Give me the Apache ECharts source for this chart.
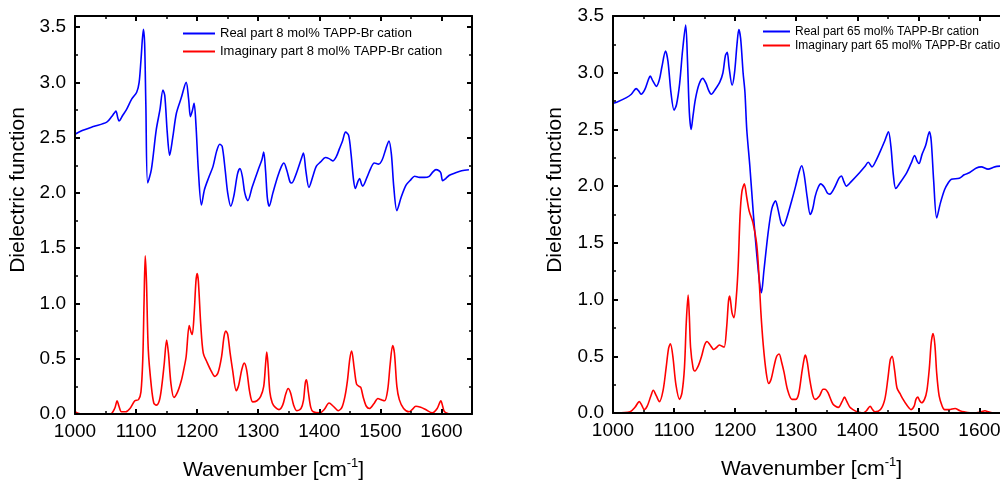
<!DOCTYPE html>
<html>
<head>
<meta charset="utf-8">
<script src="https://cdn.jsdelivr.net/npm/echarts@6/dist/echarts.min.js"></script>
<style>
  html, body { margin: 0; padding: 0; background: #fff; }
  #chart { width: 1000px; height: 480px; }
</style>
</head>
<body>
<div id="chart"></div>
<script>
// Dielectric function spectra, [wavenumber cm^-1, value]
const real8 = [[1000,2.53],[1010,2.56],[1030,2.60],[1052,2.64],[1060,2.69],[1064,2.72],[1067,2.74],[1070,2.68],[1072,2.65],[1078,2.70],[1084,2.75],[1093,2.85],[1101,2.91],[1105,3.00],[1108,3.20],[1112,3.48],[1114,3.35],[1116,2.80],[1119,2.09],[1125,2.21],[1133,2.57],[1139,2.75],[1144,2.93],[1147,2.88],[1151,2.55],[1155,2.34],[1160,2.50],[1166,2.72],[1174,2.86],[1182,3.00],[1186,2.85],[1189,2.69],[1192,2.74],[1195,2.81],[1198,2.62],[1202,2.20],[1207,1.89],[1212,2.03],[1219,2.14],[1226,2.24],[1232,2.38],[1237,2.44],[1241,2.42],[1246,2.20],[1250,2.00],[1255,1.88],[1260,1.97],[1266,2.17],[1270,2.22],[1274,2.15],[1278,2.00],[1283,1.93],[1290,2.05],[1300,2.21],[1306,2.30],[1309,2.37],[1312,2.20],[1315,1.95],[1318,1.88],[1324,2.00],[1332,2.15],[1338,2.24],[1342,2.27],[1347,2.20],[1352,2.10],[1355,2.09],[1362,2.17],[1370,2.30],[1374,2.36],[1378,2.20],[1383,2.05],[1390,2.16],[1395,2.24],[1402,2.28],[1410,2.32],[1416,2.31],[1422,2.29],[1428,2.33],[1433,2.40],[1438,2.47],[1443,2.55],[1448,2.52],[1452,2.35],[1456,2.12],[1459,2.04],[1463,2.10],[1466,2.13],[1469,2.08],[1471,2.06],[1478,2.14],[1484,2.22],[1490,2.27],[1497,2.26],[1503,2.30],[1509,2.40],[1514,2.47],[1518,2.35],[1522,2.05],[1527,1.84],[1534,1.96],[1542,2.07],[1550,2.12],[1556,2.15],[1564,2.14],[1572,2.14],[1580,2.15],[1586,2.19],[1591,2.21],[1596,2.20],[1599,2.18],[1602,2.11],[1607,2.13],[1613,2.16],[1622,2.18],[1633,2.20],[1645,2.21]];

const imag8 = [[1000,0.02],[1004,0.01],[1010,0.0],[1058,0.0],[1065,0.05],[1069,0.12],[1072,0.07],[1076,0.02],[1083,0.02],[1090,0.05],[1098,0.12],[1104,0.13],[1108,0.2],[1111,0.5],[1113,1.0],[1115,1.43],[1117,1.2],[1120,0.58],[1125,0.25],[1129,0.1],[1133,0.08],[1138,0.12],[1142,0.25],[1146,0.45],[1150,0.67],[1153,0.55],[1157,0.28],[1162,0.15],[1168,0.2],[1174,0.3],[1178,0.40],[1182,0.52],[1187,0.80],[1190,0.74],[1192,0.72],[1195,0.9],[1198,1.2],[1200,1.27],[1202,1.2],[1206,0.8],[1210,0.55],[1216,0.47],[1222,0.40],[1229,0.34],[1234,0.37],[1240,0.52],[1244,0.70],[1247,0.75],[1250,0.72],[1254,0.55],[1258,0.40],[1264,0.21],[1268,0.26],[1273,0.40],[1277,0.46],[1281,0.40],[1286,0.20],[1291,0.11],[1298,0.12],[1304,0.16],[1309,0.25],[1312,0.45],[1314,0.56],[1316,0.45],[1319,0.20],[1323,0.10],[1328,0.06],[1334,0.04],[1340,0.08],[1345,0.18],[1349,0.23],[1353,0.19],[1358,0.08],[1363,0.03],[1370,0.05],[1374,0.12],[1377,0.28],[1379,0.31],[1382,0.20],[1386,0.06],[1390,0.02],[1401,0.01],[1408,0.04],[1416,0.10],[1423,0.07],[1431,0.03],[1437,0.06],[1442,0.16],[1446,0.30],[1450,0.50],[1453,0.57],[1457,0.42],[1461,0.27],[1465,0.25],[1468,0.24],[1472,0.15],[1477,0.07],[1482,0.05],[1489,0.09],[1496,0.14],[1501,0.13],[1507,0.12],[1512,0.22],[1516,0.45],[1520,0.62],[1523,0.55],[1527,0.25],[1531,0.13],[1538,0.05],[1547,0.02],[1552,0.04],[1558,0.07],[1566,0.06],[1574,0.04],[1585,0.01],[1593,0.05],[1599,0.12],[1602,0.07],[1605,0.02],[1613,0.0]];

const real65 = [[1000,2.73],[1006,2.74],[1022,2.78],[1030,2.81],[1038,2.86],[1042,2.84],[1046,2.81],[1052,2.85],[1058,2.94],[1061,2.97],[1065,2.93],[1071,2.88],[1076,2.94],[1080,3.05],[1086,3.19],[1090,3.10],[1095,2.82],[1100,2.67],[1104,2.72],[1109,2.90],[1114,3.20],[1119,3.42],[1122,3.10],[1125,2.65],[1128,2.50],[1131,2.62],[1135,2.77],[1141,2.90],[1147,2.95],[1152,2.91],[1157,2.84],[1161,2.81],[1167,2.85],[1175,2.92],[1180,3.00],[1184,3.15],[1187,3.18],[1190,3.05],[1195,2.89],[1199,3.00],[1203,3.25],[1206,3.38],[1209,3.30],[1213,3.00],[1216,2.83],[1219,2.50],[1224,2.18],[1230,1.74],[1235,1.42],[1240,1.15],[1243,1.06],[1247,1.25],[1254,1.59],[1260,1.80],[1266,1.87],[1270,1.80],[1275,1.68],[1279,1.65],[1284,1.71],[1292,1.86],[1299,2.00],[1305,2.13],[1309,2.18],[1313,2.10],[1318,1.90],[1323,1.75],[1327,1.80],[1331,1.91],[1336,1.99],[1340,2.02],[1346,1.99],[1351,1.94],[1355,1.93],[1362,1.98],[1370,2.07],[1374,2.09],[1378,2.04],[1382,2.00],[1390,2.04],[1404,2.12],[1412,2.17],[1418,2.21],[1424,2.17],[1431,2.23],[1437,2.30],[1445,2.40],[1451,2.48],[1455,2.35],[1459,2.10],[1463,1.98],[1470,2.03],[1481,2.12],[1488,2.20],[1494,2.27],[1498,2.22],[1501,2.20],[1506,2.28],[1512,2.36],[1518,2.48],[1521,2.40],[1525,2.05],[1530,1.72],[1536,1.85],[1543,1.97],[1549,2.03],[1554,2.06],[1567,2.07],[1575,2.10],[1584,2.12],[1595,2.16],[1603,2.17],[1614,2.15],[1625,2.17],[1640,2.18],[1650,2.19]];

const imag65 = [[1000,0.0],[1006,0.0],[1028,0.01],[1036,0.05],[1043,0.10],[1047,0.07],[1051,0.03],[1056,0.06],[1062,0.15],[1066,0.20],[1071,0.15],[1076,0.10],[1082,0.20],[1087,0.40],[1091,0.57],[1094,0.61],[1098,0.50],[1103,0.25],[1109,0.12],[1113,0.18],[1117,0.40],[1120,0.80],[1123,1.04],[1125,0.85],[1127,0.58],[1131,0.40],[1134,0.37],[1140,0.42],[1145,0.50],[1150,0.60],[1154,0.63],[1159,0.60],[1165,0.56],[1170,0.58],[1174,0.60],[1178,0.59],[1182,0.58],[1186,0.75],[1189,0.98],[1191,1.03],[1195,0.88],[1198,0.84],[1202,1.03],[1205,1.30],[1208,1.74],[1211,1.95],[1215,2.02],[1219,1.90],[1223,1.78],[1229,1.68],[1235,1.50],[1238,1.30],[1242,0.90],[1246,0.60],[1251,0.35],[1255,0.26],[1259,0.30],[1264,0.42],[1268,0.50],[1272,0.52],[1276,0.45],[1280,0.36],[1286,0.20],[1293,0.12],[1299,0.12],[1304,0.17],[1309,0.35],[1313,0.48],[1315,0.51],[1318,0.45],[1322,0.30],[1327,0.16],[1331,0.12],[1338,0.15],[1344,0.21],[1347,0.21],[1352,0.18],[1360,0.08],[1369,0.05],[1375,0.10],[1379,0.14],[1383,0.10],[1388,0.05],[1393,0.03],[1400,0.01],[1409,0.0],[1415,0.02],[1421,0.06],[1425,0.03],[1429,0.01],[1438,0.03],[1445,0.12],[1450,0.30],[1454,0.47],[1457,0.50],[1461,0.38],[1465,0.22],[1470,0.17],[1475,0.12],[1481,0.07],[1488,0.03],[1493,0.06],[1496,0.12],[1499,0.14],[1502,0.11],[1505,0.09],[1510,0.12],[1514,0.20],[1518,0.40],[1521,0.62],[1524,0.70],[1527,0.60],[1530,0.35],[1534,0.15],[1539,0.06],[1543,0.03],[1550,0.03],[1560,0.04],[1568,0.02],[1575,0.01],[1590,0.0],[1603,0.01],[1609,0.02],[1615,0.01],[1623,0.0],[1650,0.0]];

const seriesNames = [
  'Real part 8 mol% TAPP-Br cation',
  'Imaginary part 8 mol% TAPP-Br cation',
  'Real part 65 mol% TAPP-Br cation',
  'Imaginary part 65 mol% TAPP-Br cation'
];
const xTitle = '{t|Wavenumber [cm}{s|-1}{t|]}';
const yTitle = 'Dielectric function';

const FONT = 'Liberation Sans, Arial, sans-serif';
const BLUE = '#0000ff';
const RED = '#ff0000';

function frameAxis(opts) {
  return Object.assign({
    type: 'value',
    z: 5,
    axisLine: { show: true, onZero: false, lineStyle: { color: '#000', width: 2 } },
    axisTick: { show: true, inside: true, length: 5, lineStyle: { color: '#000', width: 2 } },
    minorTick: { show: true, splitNumber: 2, length: 3, lineStyle: { color: '#000', width: 1.5 } },
    splitLine: { show: false },
    minorSplitLine: { show: false }
  }, opts);
}

function xAxes(gridIndex, maxV) {
  return [
    frameAxis({
      gridIndex, position: 'bottom', min: 1000, max: maxV, interval: 100,
      axisLabel: {
        show: true, color: '#000', fontSize: 19, fontFamily: FONT, margin: 8,
        showMaxLabel: false, formatter: v => String(v)
      },
      name: xTitle, nameLocation: 'middle', nameGap: 43,
      nameTextStyle: {
        color: '#000', fontFamily: FONT,
        rich: {
          t: { fontSize: 21, fontFamily: FONT, color: '#000', lineHeight: 26 },
          s: { fontSize: 13, fontFamily: FONT, color: '#000', verticalAlign: 'top', lineHeight: 26 }
        }
      }
    }),
    frameAxis({
      gridIndex, position: 'top', min: 1000, max: maxV, interval: 100,
      axisLabel: { show: false }
    })
  ];
}

function yAxes(gridIndex, maxV) {
  return [
    frameAxis({
      gridIndex, position: 'left', min: 0, max: maxV, interval: 0.5,
      axisLabel: {
        show: true, color: '#000', fontSize: 19, fontFamily: FONT, margin: 9,
        showMaxLabel: maxV === 3.5, formatter: v => v.toFixed(1)
      }
    }),
    frameAxis({
      gridIndex, position: 'right', min: 0, max: maxV, interval: 0.5,
      axisLabel: { show: false }
    })
  ];
}

function line(name, data, color, xi, yi) {
  return {
    name, type: 'line', data, xAxisIndex: xi, yAxisIndex: yi,
    symbol: 'none', smooth: 0.3, z: 3,
    lineStyle: { color, width: 1.6 }, itemStyle: { color },
    clip: true, animation: false
  };
}

const chart = echarts.init(document.getElementById('chart'), null, { renderer: 'canvas' });
chart.setOption({
  backgroundColor: '#fff',
  animation: false,
  grid: [
    { left: 75, top: 16, width: 397, height: 398, outerBoundsMode: 'none', containLabel: false },
    { left: 613, top: 16, width: 397, height: 397, outerBoundsMode: 'none', containLabel: false }
  ],
  xAxis: [...xAxes(0, 1650), ...xAxes(1, 1650)],
  yAxis: [...yAxes(0, 3.6), ...yAxes(1, 3.5)],
  legend: [
    {
      data: [seriesNames[0], seriesNames[1]],
      orient: 'vertical', left: 183, top: 26, padding: 0, itemGap: 3,
      icon: 'rect', itemWidth: 32, itemHeight: 2,
      textStyle: { fontSize: 13, fontFamily: FONT, color: '#000', lineHeight: 15 }
    },
    {
      data: [seriesNames[2], seriesNames[3]],
      orient: 'vertical', left: 763, top: 25, padding: 0, itemGap: 1,
      icon: 'rect', itemWidth: 27, itemHeight: 2,
      textStyle: { fontSize: 12, fontFamily: FONT, color: '#000', lineHeight: 13 }
    }
  ],
  graphic: [
    { type: 'text', x: 18, y: 190, rotation: Math.PI / 2,
      style: { text: yTitle, fontSize: 21, fontFamily: FONT, fill: '#000', align: 'center', verticalAlign: 'middle' } },
    { type: 'text', x: 555, y: 190, rotation: Math.PI / 2,
      style: { text: yTitle, fontSize: 21, fontFamily: FONT, fill: '#000', align: 'center', verticalAlign: 'middle' } }
  ],
  series: [
    line(seriesNames[0], real8, BLUE, 0, 0),
    line(seriesNames[1], imag8, RED, 0, 0),
    line(seriesNames[2], real65, BLUE, 2, 2),
    line(seriesNames[3], imag65, RED, 2, 2)
  ]
});
</script>
</body>
</html>
